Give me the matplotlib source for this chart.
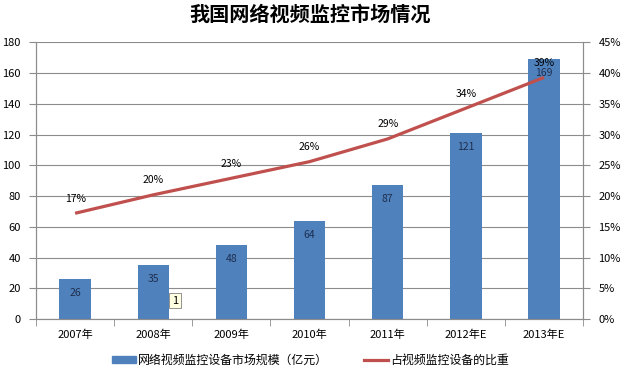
import matplotlib
matplotlib.use('Agg')
from matplotlib import pyplot as plt
from matplotlib.patches import Patch
from matplotlib.lines import Line2D
import numpy as np

plt.rcParams['font.family'] = ['Noto Sans CJK SC', 'DejaVu Sans']

years = ['2007年', '2008年', '2009年', '2010年', '2011年', '2012年E', '2013年E']
market = [26, 35, 48, 64, 87, 121, 169]          # 亿元
share = [0.172, 0.202, 0.229, 0.256, 0.293, 0.343, 0.393]
share_labels = ['17%', '20%', '23%', '26%', '29%', '34%', '39%']

bar_color = '#4F81BD'
line_color = '#C0504D'
grid_color = '#8C8C8C'

fig = plt.figure(figsize=(6.21, 3.72), dpi=100)
ax = fig.add_axes([0.058, 0.1425, 0.881, 0.7435])
x = np.arange(len(years))

bars = ax.bar(x, market, 0.4, color=bar_color, zorder=2)
ax.set_xlim(-0.5, len(years) - 0.5)
ax.set_ylim(0, 180)
ax.set_yticks(range(0, 181, 20))
ax.yaxis.grid(True, color=grid_color, linewidth=0.8, zorder=0)
ax.set_axisbelow(True)

# category ticks sit between the bars
ax.set_xticks(x)
ax.set_xticklabels(years, fontsize=8)
ax.set_xticks(np.arange(-0.5, len(years), 1), minor=True)
ax.tick_params(axis='x', which='major', length=0, pad=8)
ax.tick_params(axis='x', which='minor', length=5, color=grid_color, direction='out')
ax.tick_params(axis='y', length=5, color=grid_color, labelsize=8, pad=6)

ax.spines['top'].set_visible(False)
for s in ['left', 'right', 'bottom']:
    ax.spines[s].set_color(grid_color)

for rect, v in zip(bars, market):
    ax.annotate(str(v), xy=(rect.get_x() + rect.get_width() / 2, v),
                xytext=(0, -10), textcoords='offset points',
                ha='center', va='center', fontsize=7.5, color='#1F2F4F')

ax2 = ax.twinx()
ax2.set_ylim(0, 0.45)
ax2.set_yticks(np.arange(0, 0.451, 0.05))
ax2.set_yticklabels([f'{int(round(t * 100))}%' for t in np.arange(0, 0.451, 0.05)])
ax2.tick_params(axis='y', length=5, color=grid_color, labelsize=8, pad=6)
for s in ax2.spines.values():
    s.set_color(grid_color)
ax2.spines['top'].set_visible(False)

ax2.plot(x, share, color=line_color, linewidth=2.3, solid_capstyle='butt', zorder=3)
for xi, v, lab in zip(x, share, share_labels):
    ax2.annotate(lab, xy=(xi, v), xytext=(0, 10.5), textcoords='offset points',
                 ha='center', va='center', fontsize=7.5, color='black')

# little tooltip box left in the original screenshot
ax.text(1.28, 12, '1', ha='center', va='center', fontsize=8,
        bbox=dict(boxstyle='square,pad=0.25', fc='#FFFFE1', ec='#808080', lw=0.6),
        zorder=5)

fig.suptitle('我国网络视频监控市场情况', x=0.5, y=0.99, fontsize=14.5,
             fontweight='bold', va='top')

handles = [Patch(color=bar_color),
           Line2D([0], [0], color=line_color, linewidth=2.3)]
fig.legend(handles, ['网络视频监控设备市场规模（亿元）', '占视频监控设备的比重'],
           loc='center', bbox_to_anchor=(0.5, 0.032), ncol=2, frameon=False,
           fontsize=8.6, handlelength=2.0, handleheight=0.6, handletextpad=0.2,
           columnspacing=3.0)

fig.savefig('out.png', dpi=100)
